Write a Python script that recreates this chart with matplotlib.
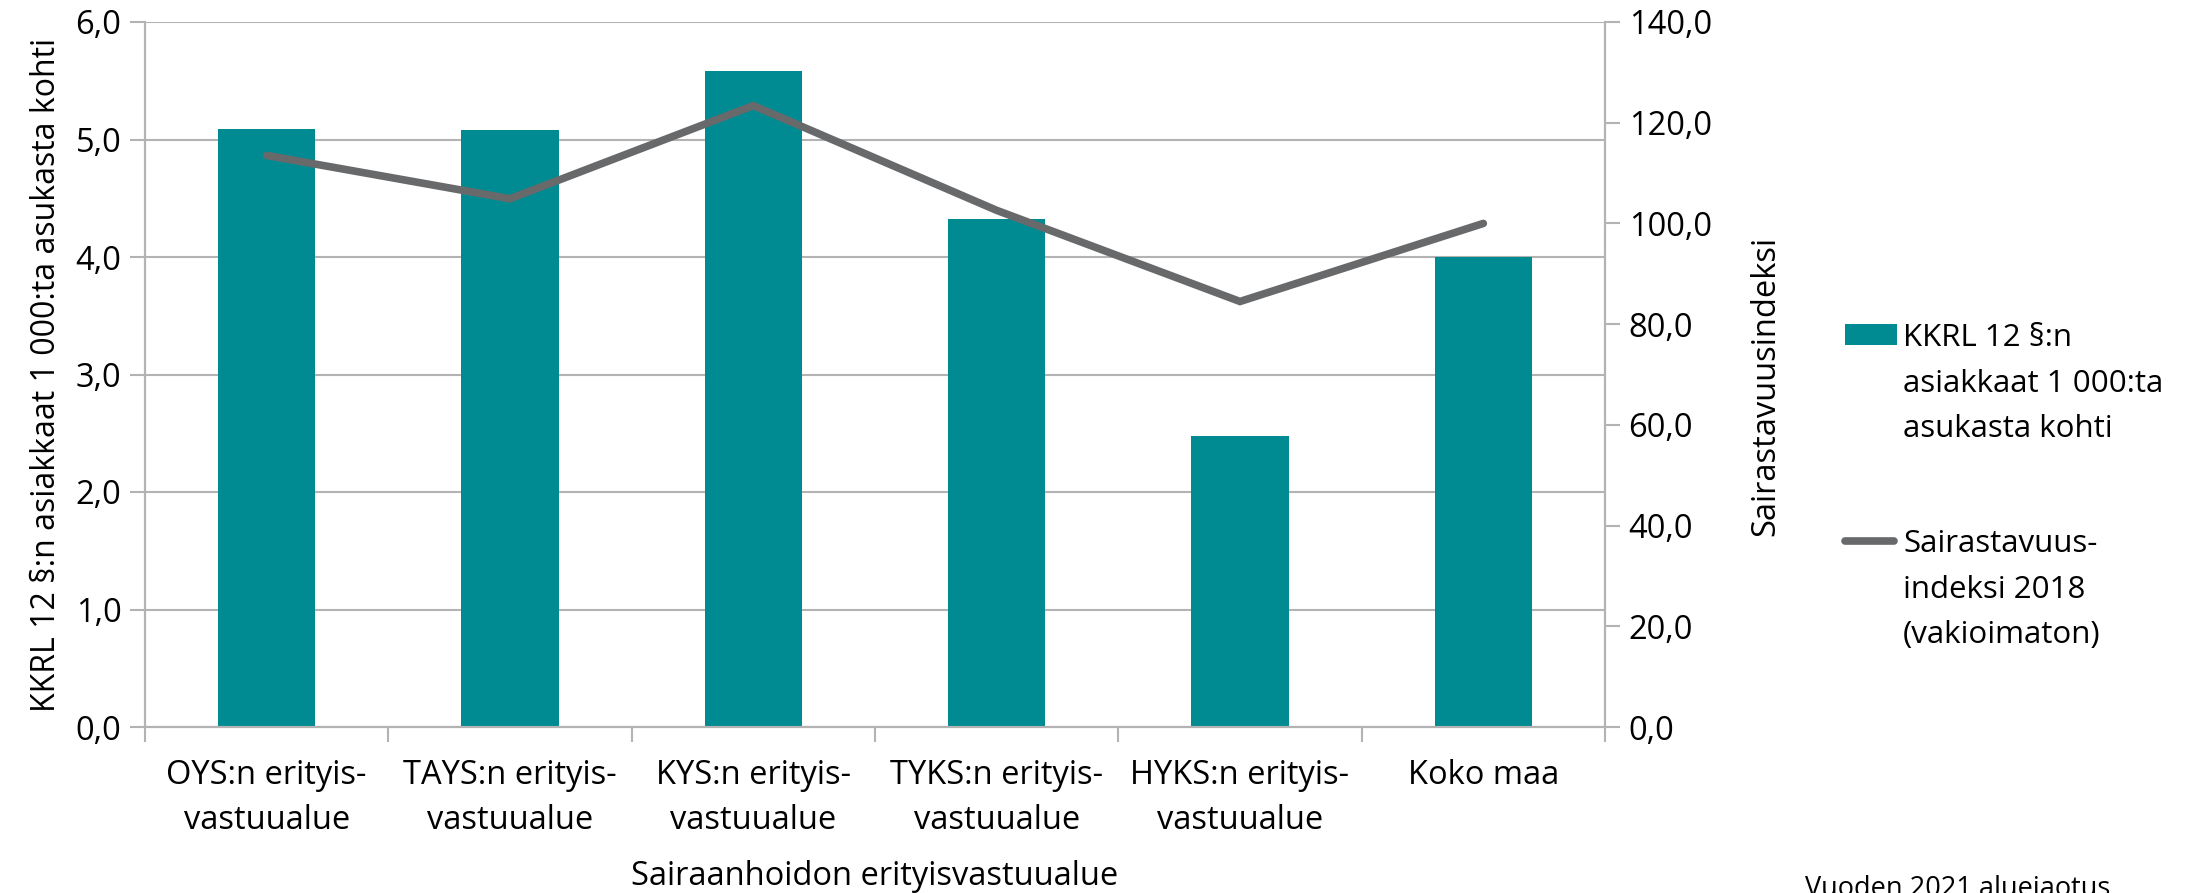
import matplotlib
matplotlib.use("Agg")
import matplotlib.pyplot as plt
from matplotlib.lines import Line2D
from matplotlib.patches import Rectangle
from matplotlib.ticker import FuncFormatter, FixedLocator

categories = ["OYS:n erityis-\nvastuualue", "TAYS:n erityis-\nvastuualue", "KYS:n erityis-\nvastuualue",
              "TYKS:n erityis-\nvastuualue", "HYKS:n erityis-\nvastuualue", "Koko maa"]
kkrl_values = [5.09, 5.08, 5.58, 4.32, 2.48, 4.00]
index_values = [113.5, 104.9, 123.4, 102.6, 84.5, 100.0]
bar_label_lines = ["KKRL 12 §:n", "asiakkaat 1 000:ta", "asukasta kohti"]
line_label_lines = ["Sairastavuus-", "indeksi 2018", "(vakioimaton)"]

BAR = "#008B93"
LINE = "#68696B"
GRID = "#B3B3B3"
FONT = "Open Sans"
FS = 23.5
LW = 5.5
W, H = 2202, 893

plt.rcParams['font.family'] = [FONT, 'DejaVu Sans']

fig = plt.figure(figsize=(W / 100, H / 100), dpi=100)
ax = fig.add_axes([145 / W, 1 - 727 / H, (1605 - 145) / W, (727 - 22) / H])
ax2 = ax.twinx()

x = list(range(len(categories)))
ax.bar(x, kkrl_values, width=0.4, color=BAR, zorder=2)
ax2.plot(x, index_values, color=LINE, lw=LW, solid_capstyle='round', solid_joinstyle='miter', zorder=3)

ax.set_xlim(-0.5, len(categories) - 0.5)
ax.set_ylim(0, 6)
ax2.set_ylim(0, 140)
ax.set_yticks([0, 1, 2, 3, 4, 5, 6])
ax2.set_yticks([0, 20, 40, 60, 80, 100, 120, 140])
fmt = FuncFormatter(lambda v, p: f"{v:.1f}".replace(".", ","))
ax.yaxis.set_major_formatter(fmt)
ax2.yaxis.set_major_formatter(fmt)

ax.set_xticks(x)
ax.set_xticklabels(categories, fontsize=FS, linespacing=1.5)
ax.xaxis.set_minor_locator(FixedLocator([i - 0.5 for i in range(len(categories) + 1)]))
ax.tick_params(axis='x', which='major', length=0, pad=23)
ax.tick_params(axis='x', which='minor', length=11, color=GRID, width=1.5)
ax.tick_params(axis='y', length=11, color=GRID, width=1.5, labelsize=FS, pad=6)
ax2.tick_params(axis='y', length=11, color=GRID, width=1.5, labelsize=FS, pad=6)

ax.grid(axis='y', color=GRID, lw=1.5, zorder=0)
ax.set_axisbelow(True)
for a in (ax, ax2):
    a.spines['top'].set_visible(False)
    for s in ('left', 'right', 'bottom'):
        a.spines[s].set_color(GRID)
        a.spines[s].set_linewidth(1.5)

ax.set_ylabel("KKRL 12 §:n asiakkaat 1 000:ta asukasta kohti", fontsize=23, labelpad=9)
ax2.set_ylabel("Sairastavuusindeksi", fontsize=FS, labelpad=27)
ax2.yaxis.label.set_y(0.484)
ax.set_xlabel("Sairaanhoidon erityisvastuualue", fontsize=FS, labelpad=16)

# legend (drawn in figure pixel coordinates)
def fy(py):
    return 1 - py / H

LFS = 22.5
fig.patches.append(Rectangle((1845 / W, fy(345)), (1897 - 1845) / W, 21 / H,
                             transform=fig.transFigure, facecolor=BAR, edgecolor='none'))
fig.lines.append(Line2D([1845 / W, 1894 / W], [fy(541), fy(541)], transform=fig.transFigure,
                        color=LINE, lw=LW, solid_capstyle='round'))
for i, t in enumerate(bar_label_lines):
    fig.text(1903 / W, fy(346 + 45.7 * i), t, fontsize=LFS, ha='left', va='baseline')
for i, t in enumerate(line_label_lines):
    fig.text(1903 / W, fy(552 + 45.7 * i), t, fontsize=LFS, ha='left', va='baseline')

fig.text(1958 / W, fy(896), "Vuoden 2021 aluejaotus", fontsize=19.5, ha='center', va='baseline')

fig.savefig("out.png", dpi=100)
